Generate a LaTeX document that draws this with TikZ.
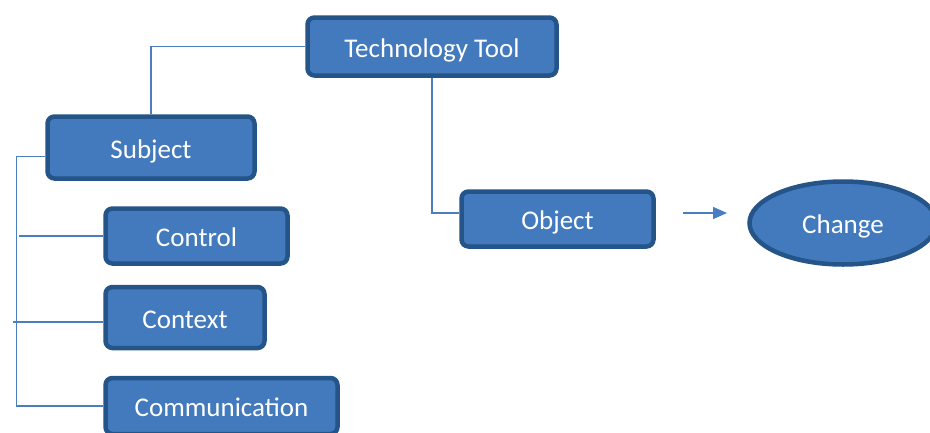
\documentclass[tikz,border=0pt]{standalone}
\usepackage{fontspec}
\setmainfont{Carlito}
\usetikzlibrary{arrows.meta,shapes.geometric,backgrounds}
\definecolor{boxfill}{RGB}{66,122,189}
\definecolor{boxedge}{RGB}{36,84,136}
\definecolor{wire}{RGB}{74,126,192}
\begin{document}
\begin{tikzpicture}[
  x=1pt, y=-1pt,
  b/.style={rectangle, rounded corners=7pt, draw=boxedge, line width=4.5pt,
    fill=boxfill, text=white, font=\fontsize{27}{32}\selectfont,
    inner sep=0pt, text height=21pt, text depth=0pt},
  oval/.style={b, ellipse, rounded corners=0pt},
  e/.style={draw=wire, line width=1.5pt}
]
\useasboundingbox (0,0) rectangle (930,432);
\clip (0,0) rectangle (930,432);

% --- top: tool and subject ---
\node[b, minimum width=249pt, minimum height=58pt] (tech) at (432,46.5) {Technology Tool};
\node[b, minimum width=207pt, minimum height=62pt] (subj) at (151,147.5) {Subject};

% --- the three factors below the subject ---
\node[b, minimum width=182pt, minimum height=55pt] (ctrl) at (196.5,236) {Control};
\node[b, minimum width=159pt, minimum height=61pt] (ctx) at (185,317.5) {Context};
\node[b, minimum width=232pt, minimum height=56pt] (comm) at (221.5,406) {Communication};

% --- object and change ---
\node[b, minimum width=192pt, minimum height=55pt] (obj) at (557.5,219) {Object};
\node[oval, minimum width=187pt, minimum height=83pt] (chg) at (843,223) {Change};
\coordinate (arrS) at (683,213);
\coordinate (arrE) at (727,213);

\begin{scope}[on background layer]
\draw[e] (tech.west) -| (subj.north);
\draw[e] (tech.south) |- ([yshift=6pt]obj.west);
\draw[e] ([yshift=-9pt]subj.west) -| ([xshift=-87pt]comm.west) -- (comm.west);
\draw[e] ([xshift=-84pt]ctrl.west) -- (ctrl.west);
\draw[e] ([xshift=-90pt,yshift=-4.5pt]ctx.west) -- ([yshift=-4.5pt]ctx.west);
\end{scope}
\draw[e, -{Triangle[length=14pt,width=12pt]}] (arrS) -- (arrE);

\end{tikzpicture}
\end{document}
